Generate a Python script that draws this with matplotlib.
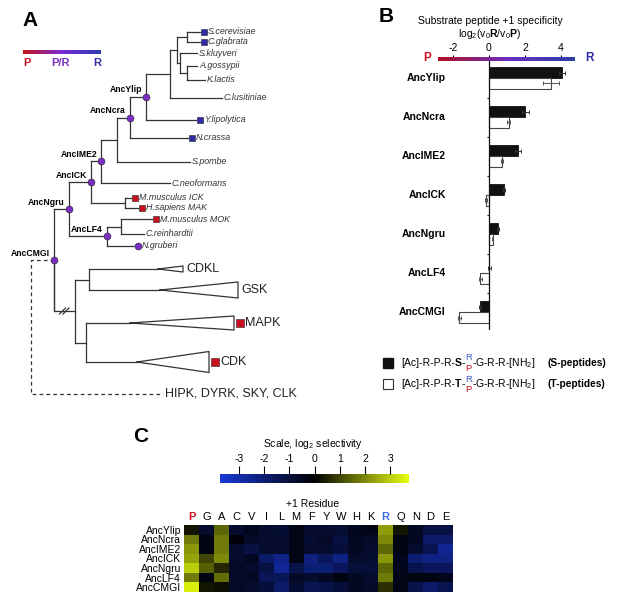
import numpy as np
import matplotlib
matplotlib.use('Agg')
import matplotlib.pyplot as plt
from matplotlib.colors import LinearSegmentedColormap

plt.rcParams['font.family'] = ['Liberation Sans', 'DejaVu Sans']
plt.rcParams['mathtext.fontset'] = 'custom'
plt.rcParams['mathtext.rm'] = 'Liberation Sans'
plt.rcParams['mathtext.bf'] = 'Liberation Sans:bold'
plt.rcParams['mathtext.it'] = 'Liberation Sans:italic'

# ---------------- data ----------------
# tree leaves (tip depth and row position in the tree layout)
leaf_names = ['S.cerevisiae', 'C.glabrata', 'S.kluyveri', 'A.gossypii', 'K.lactis',
              'C.lusitiniae', 'Y.lipolytica', 'N.crassa', 'S.pombe', 'C.neoformans',
              'M.musculus ICK', 'H.sapiens MAK', 'M.musculus MOK', 'C.reinhardtii', 'N.gruberi']
leaf_tip = [200, 200, 197, 197, 205, 222, 196, 188, 190, 170, 131, 138, 152, 144, 134]
leaf_row = [32, 42, 53, 66, 80, 98, 120, 138, 162, 183, 198, 208, 219, 234, 246]
leaf_spec = ['R', 'R', '', '', '', '', 'R', 'R', '', '', 'P', 'P', 'P', '', 'PR']

clade_names = ['CDKL', 'GSK', 'MAPK', 'CDK']
clade_apex = [158, 160, 130, 137]
clade_tip = [183, 238, 234, 209]
clade_half = [3, 8, 7, 10.5]
clade_row = [269, 290, 323, 362]
clade_spec = ['', '', 'P', 'P']

# internal nodes: name, depth, children
node_names = ['n1', 'n2', 'n3', 'n4', 'n5', 'AncYlip', 'AncNcra', 'n6', 'AncIME2', 'n7',
              'AncICK', 'n8', 'AncLF4', 'AncNgru', 'n9', 'n10', 'n11', 'AncCMGI']
node_depth = [187, 187, 180, 177, 170, 146, 130, 117, 101, 125, 91, 121, 107, 69, 89, 86, 75, 54]
node_kids = [('S.cerevisiae', 'C.glabrata'), ('A.gossypii', 'K.lactis'), ('S.kluyveri', 'n2'),
             ('n1', 'n3'), ('n4', 'C.lusitiniae'), ('n5', 'Y.lipolytica'), ('AncYlip', 'N.crassa'),
             ('AncNcra', 'S.pombe'), ('n6', 'C.neoformans'), ('M.musculus ICK', 'H.sapiens MAK'),
             ('AncIME2', 'n7'), ('M.musculus MOK', 'C.reinhardtii'), ('n8', 'N.gruberi'),
             ('AncICK', 'AncLF4'), ('CDKL', 'GSK'), ('MAPK', 'CDK'), ('n9', 'n10'), ('AncNgru', 'n11')]
outgroup_name = 'HIPK, DYRK, SKY, CLK'
outgroup_row = 394
outgroup_tip = 163
root_depth = 31

# panel B
ancestors = ['AncYlip', 'AncNcra', 'AncIME2', 'AncICK', 'AncNgru', 'AncLF4', 'AncCMGI']
s_pep = [4.05, 2.02, 1.62, 0.85, 0.50, 0.03, -0.50]
s_err = [0.15, 0.18, 0.15, 0.05, 0.08, 0.10, 0.05]
t_pep = [3.45, 1.10, 0.72, -0.15, 0.20, -0.48, -1.65]
t_err = [0.45, 0.08, 0.05, 0.05, 0.05, 0.07, 0.08]
b_ticks = [-2, 0, 2, 4]

# panel C
residues = ['P', 'G', 'A', 'C', 'V', 'I', 'L', 'M', 'F', 'Y', 'W', 'H', 'K', 'R', 'Q', 'N', 'D', 'E']
sel_AncYlip = [0.3, -0.8, 1.5, -0.8, -0.5, -0.8, -0.9, -0.4, -0.8, -0.8, -0.9, -0.5, -0.4, 2.3, 0.3, -0.6, -1.2, -1.2]
sel_AncNcra = [1.8, -0.3, 1.8, -0.2, -0.7, -0.8, -0.8, -0.4, -0.9, -0.7, -1.2, -0.6, -0.7, 2.0, -0.3, -0.6, -1.8, -1.8]
sel_AncIME2 = [2.2, -0.3, 1.8, -0.8, -1.2, -0.8, -0.8, -0.4, -0.8, -0.8, -1.0, -0.6, -0.8, 1.5, -0.3, -0.8, -1.4, -2.5]
sel_AncICK = [2.4, 1.0, 2.0, -0.8, -0.6, -1.8, -2.4, -0.4, -2.2, -1.6, -2.3, -0.8, -0.9, 2.2, -0.5, -2.0, -2.3, -2.3]
sel_AncNgru = [3.0, 1.4, 0.6, -0.7, -0.8, -1.2, -2.6, -1.3, -2.0, -2.0, -1.6, -1.0, -1.0, 1.5, -0.5, -1.3, -1.6, -1.6]
sel_AncLF4 = [1.8, -0.3, 1.6, -0.7, -0.6, -1.5, -1.5, -0.7, -0.8, -0.6, -0.3, -0.6, -0.8, 1.8, -0.4, -0.3, -0.3, -0.5]
sel_AncCMGI = [3.5, 0.3, 0.2, -0.7, -0.8, -1.0, -1.8, -0.9, -1.4, -1.3, -1.0, -0.6, -0.7, 0.7, -0.4, -1.3, -1.8, -1.4]
scale_ticks = [-3, -2, -1, 0, 1, 2, 3]

# ---------------- style ----------------
RED = '#c8101e'
BLUE = '#2e2aa8'
PURPLE = '#7a2ec4'
LINE = '#333333'
W, H = 617, 599

fig = plt.figure(figsize=(W / 100, H / 100), dpi=100)
ax0 = fig.add_axes([0, 0, 1, 1])
ax0.set_xlim(0, W)
ax0.set_ylim(H, 0)
ax0.axis('off')


def px_axes(l, t, r, b):
    return fig.add_axes([l / W, 1 - b / H, (r - l) / W, (b - t) / H])


# ---------------- panel A: tree ----------------
ax0.text(30, 20, 'A', fontsize=15, fontweight='bold', ha='center', va='center')
pr_cmap = LinearSegmentedColormap.from_list('pr', ['#c4161c', '#7b2ad6', '#2a3bb0'])
ax0.imshow(np.linspace(0, 1, 200)[None, :], cmap=pr_cmap, extent=(23, 101, 54, 50), aspect='auto')
ax0.text(27, 63, 'P', color=RED, fontsize=8, fontweight='bold', ha='center', va='center')
ax0.text(60, 63, 'P/R', color=PURPLE, fontsize=8, fontweight='bold', ha='center', va='center')
ax0.text(97, 63, 'R', color=BLUE, fontsize=8, fontweight='bold', ha='center', va='center')

pos = {}
for i, n in enumerate(leaf_names):
    pos[n] = (leaf_tip[i], leaf_row[i])
for i, n in enumerate(clade_names):
    pos[n] = (clade_apex[i], clade_row[i])
for n, d, (a, b) in zip(node_names, node_depth, node_kids):
    pos[n] = (d, (pos[a][1] + pos[b][1]) / 2)

mark_col = {'R': BLUE, 'P': RED}
for n, d, kids in zip(node_names, node_depth, node_kids):
    y = pos[n][1]
    ax0.plot([d, d], [pos[kids[0]][1], pos[kids[1]][1]], color=LINE, lw=0.9)
    for k in kids:
        kx, ky = pos[k]
        if n == 'AncCMGI' and k == 'n11':
            ax0.plot([d, d, kx], [y, ky, ky], color=LINE, lw=0.9)
            # axis break marks
            for off in (-2, 1.5):
                mx = (d + kx) / 2 + off
                ax0.plot([mx - 3, mx + 3], [ky + 3, ky - 3], color=LINE, lw=0.9)
            continue
        ax0.plot([d, kx], [ky, ky], color=LINE, lw=0.9)

# leaves
for n, sp in zip(leaf_names, leaf_spec):
    x, y = pos[n]
    if sp in mark_col:
        ax0.plot(x + 4, y, 's', ms=5, mfc=mark_col[sp], mec='#222222', mew=0.4)
        tx = x + 8
    elif sp == 'PR':
        ax0.plot(x + 4, y, 'o', ms=5, mfc=PURPLE, mec='#222222', mew=0.4)
        tx = x + 8
    else:
        tx = x + 2
    ax0.text(tx, y, n, fontsize=6.4, style='italic', color='#333333', ha='left', va='center')

# collapsed clades
for i, n in enumerate(clade_names):
    a, t, h, y = clade_apex[i], clade_tip[i], clade_half[i], clade_row[i]
    ax0.plot([a, t, t, a], [y, y - h, y + h, y], color=LINE, lw=0.9)
    if clade_spec[i] == 'P':
        ax0.plot(t + 6, y, 's', ms=5.5, mfc=RED, mec='#222222', mew=0.4)
        tx = t + 11
    else:
        tx = t + 3
    ax0.text(tx, y, n, fontsize=9, ha='left', va='center', color='#222222')

# outgroup (dashed)
cx, cy = pos['AncCMGI']
ax0.plot([cx, root_depth, root_depth, outgroup_tip], [cy, cy, outgroup_row, outgroup_row],
         color=LINE, lw=0.9, ls=(0, (3, 2.5)))
ax0.text(outgroup_tip + 2, outgroup_row, outgroup_name, fontsize=9, ha='left', va='center',
         color='#222222')

# ancestral node markers + labels
for n in node_names:
    if n.startswith('Anc'):
        x, y = pos[n]
        ax0.plot(x, y, 'o', ms=5, mfc=PURPLE, mec='#222222', mew=0.4, zorder=5)
        ax0.text(x - 4, y - 7, n, fontsize=6.2, fontweight='bold', ha='right', va='center')

# ---------------- panel B: bars ----------------
ax0.text(386, 17, 'B', fontsize=15, fontweight='bold', ha='center', va='center')
ax0.text(490, 21, 'Substrate peptide +1 specificity', fontsize=7.5, ha='center', va='center')
ax0.text(490, 34, r'log$_2$(v$_0$$\mathbf{R}$/v$_0$$\mathbf{P}$)', fontsize=7.5,
         ha='center', va='center')
ax0.text(427, 58, 'P', color=RED, fontsize=8.5, fontweight='bold', ha='center', va='center')
ax0.text(589, 58, 'R', color=BLUE, fontsize=8.5, fontweight='bold', ha='center', va='center')

axb = px_axes(438, 59, 575, 330)
xlo, xhi = -2.83, 4.78
rows = np.arange(len(ancestors))
bh = 0.28
axb.barh(rows - bh / 2, s_pep, height=bh, color='#111111', edgecolor='#111111', lw=0.6)
axb.barh(rows + bh / 2, t_pep, height=bh, color='white', edgecolor='#444444', lw=0.8)
axb.errorbar(s_pep, rows - bh / 2, xerr=s_err, fmt='none', ecolor='#333333', elinewidth=0.7,
             capsize=1.5, capthick=0.7)
axb.errorbar(t_pep, rows + bh / 2, xerr=t_err, fmt='none', ecolor='#555555', elinewidth=0.7,
             capsize=1.5, capthick=0.7)
axb.axvline(0, color='#111111', lw=0.9)
axb.hlines(rows[:-1] + 0.5, -0.12, 0, color='#111111', lw=0.8)
bgrad = LinearSegmentedColormap.from_list('b', ['#b01020', '#6a2fc0', '#2b3fa8'])
axb.imshow(np.linspace(0, 1, 256)[None, :], cmap=bgrad, aspect='auto',
           extent=(xlo, xhi, -0.487 + 0.04, -0.487 - 0.04), clip_on=False, zorder=4)
for i, n in enumerate(ancestors):
    axb.text(-2.4, i, n, fontsize=7.5, fontweight='bold', ha='right', va='center')
axb.xaxis.tick_top()
axb.set_xticks(b_ticks)
axb.set_xticklabels([str(v) for v in b_ticks])
axb.tick_params(axis='x', length=3, width=0.8, pad=1, labelsize=7.5)
axb.set_yticks([])
for s in axb.spines.values():
    s.set_visible(False)
axb.set_xlim(xlo, xhi)
axb.set_ylim(6.46, -0.487)

# legend
ax0.plot(388, 363, 's', ms=7, mfc='#111111', mec='#111111')
ax0.plot(388, 384, 's', ms=7, mfc='white', mec='#333333', mew=0.8)
renderer = fig.canvas.get_renderer()


def chain(x, y, pieces):
    for txt, kw in pieces:
        t = ax0.text(x, y, txt, ha='left', va='center', **kw)
        bb = t.get_window_extent(renderer=renderer)
        x = ax0.transData.inverted().transform((bb.x1, bb.y0))[0]
    return x


for y, res in [(363, 'S'), (384, 'T')]:
    x = chain(401, y, [('[Ac]-R-P-R-', dict(fontsize=7.5)),
                       (res, dict(fontsize=7.5, fontweight='bold')),
                       ('-', dict(fontsize=7.5))])
    t = ax0.text(x, y - 5, 'R', color='#4060d0', fontsize=6.8, ha='left', va='center')
    ax0.text(x, y + 5.5, 'P', color=RED, fontsize=6.8, ha='left', va='center')
    bb = t.get_window_extent(renderer=renderer)
    x = ax0.transData.inverted().transform((bb.x1, bb.y0))[0]
    chain(x, y, [('-G-R-R-[NH$_2$]', dict(fontsize=7.5))])
    ax0.text(547, y, '(%s-peptides)' % res, fontsize=7.3, fontweight='bold', ha='left', va='center')

# ---------------- panel C: heatmap ----------------
ax0.text(141, 437, 'C', fontsize=15, fontweight='bold', ha='center', va='center')
ax0.text(313, 444, r'Scale, log$_2$ selectivity', fontsize=7.5, ha='center', va='center')
ax0.text(313, 504, '+1 Residue', fontsize=7.5, ha='center', va='center')

sel_cmap = LinearSegmentedColormap.from_list('sel', ['#1838d8', '#000000', '#eaff10'])
vmin, vmax = -3.75, 3.75

axc = px_axes(220, 474, 409, 483)
axc.imshow(np.linspace(vmin, vmax, 256)[None, :], cmap=sel_cmap, vmin=vmin, vmax=vmax,
           extent=(vmin, vmax, 0, 1), aspect='auto')
axc.xaxis.tick_top()
axc.set_xticks(scale_ticks)
axc.set_xticklabels([str(v) for v in scale_ticks])
axc.tick_params(axis='x', length=6, width=0.8, pad=1, labelsize=7.5)
axc.set_yticks([])
for s in axc.spines.values():
    s.set_visible(False)

sel = np.array([sel_AncYlip, sel_AncNcra, sel_AncIME2, sel_AncICK, sel_AncNgru, sel_AncLF4, sel_AncCMGI])
axh = px_axes(184, 525, 453, 592)
axh.imshow(sel, cmap=sel_cmap, vmin=vmin, vmax=vmax, aspect='auto', interpolation='nearest')
axh.xaxis.tick_top()
axh.set_xticks(range(len(residues)))
axh.set_xticklabels(residues)
axh.set_yticks(range(len(ancestors)))
axh.set_yticklabels(ancestors)
axh.tick_params(length=0, pad=2, labelsize=8)
axh.tick_params(axis='y', labelsize=7.5, pad=2)
for lab in axh.get_xticklabels():
    if lab.get_text() == 'P':
        lab.set_color(RED)
        lab.set_fontweight('bold')
    elif lab.get_text() == 'R':
        lab.set_color('#3a6ee8')
        lab.set_fontweight('bold')
for s in axh.spines.values():
    s.set_visible(False)

ax0.set_xlim(0, W)
ax0.set_ylim(H, 0)
fig.savefig('out.png', dpi=100)
